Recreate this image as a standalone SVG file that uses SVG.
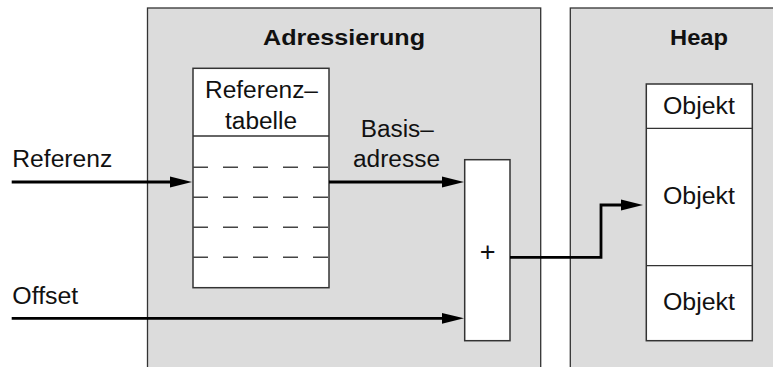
<svg xmlns="http://www.w3.org/2000/svg" width="773" height="367" viewBox="0 0 773 367">
  <style>
    .panel { fill: #dcdcdc; stroke: #333; stroke-width: 1.3; }
    .box { fill: #fff; stroke: #333; stroke-width: 1.5; }
    .sep { stroke: #333; stroke-width: 1.3; fill: none; }
    .row { stroke: #444; stroke-width: 1.5; stroke-dasharray: 15 15; fill: none; }
    .wire { stroke: #000; stroke-width: 2.8; fill: none; }
    text { font-family: "Liberation Sans", Arial, Helvetica, sans-serif; font-size: 23px; fill: #111; }
    .title { font-weight: bold; font-size: 22.5px; }
    .plus { font-size: 27px; }
    .c { text-anchor: middle; }
  </style>
  <defs>
    <marker id="arrow" markerUnits="userSpaceOnUse" markerWidth="23" markerHeight="12" refX="12" refY="6" orient="auto">
      <path d="M0,0.6 L22,6 L0,11.4 z" fill="#000"/>
    </marker>
  </defs>

  <!-- background panels -->
  <g id="panel-adressierung">
    <rect class="panel" x="147.5" y="8" width="393.2" height="370"/>
    <text class="title c" x="344" y="45" textLength="162" lengthAdjust="spacingAndGlyphs">Adressierung</text>
  </g>
  <g id="panel-heap">
    <rect class="panel" x="570.3" y="8" width="220" height="370"/>
    <text class="title c" x="699" y="45" textLength="58" lengthAdjust="spacingAndGlyphs">Heap</text>
  </g>

  <!-- reference table -->
  <g id="referenztabelle">
    <rect class="box" x="193" y="68.3" width="136" height="219.4"/>
    <line class="sep" x1="193" y1="136" x2="329" y2="136"/>
    <line class="row" x1="193" y1="167.3" x2="329" y2="167.3"/>
    <line class="row" x1="193" y1="197.3" x2="329" y2="197.3"/>
    <line class="row" x1="193" y1="227.3" x2="329" y2="227.3"/>
    <line class="row" x1="193" y1="257.3" x2="329" y2="257.3"/>
    <text class="c" x="261.5" y="97.5" textLength="113" lengthAdjust="spacingAndGlyphs">Referenz–</text>
    <text class="c" x="261" y="128.5" textLength="72" lengthAdjust="spacingAndGlyphs">tabelle</text>
  </g>

  <!-- adder -->
  <g id="adder">
    <rect class="box" x="464.7" y="159.7" width="45.3" height="181"/>
    <text class="c plus" x="487.7" y="261.3">+</text>
  </g>

  <!-- heap objects -->
  <g id="heap-objects">
    <rect class="box" x="646.3" y="84" width="106" height="256.7"/>
    <line class="sep" x1="646.3" y1="128.3" x2="752.3" y2="128.3"/>
    <line class="sep" x1="646.3" y1="265.7" x2="752.3" y2="265.7"/>
    <text class="c" x="699" y="113.5" textLength="72" lengthAdjust="spacingAndGlyphs">Objekt</text>
    <text class="c" x="699" y="204.2" textLength="72" lengthAdjust="spacingAndGlyphs">Objekt</text>
    <text class="c" x="699" y="310.2" textLength="72" lengthAdjust="spacingAndGlyphs">Objekt</text>
  </g>

  <!-- input / edge labels -->
  <g id="label-referenz">
    <text x="12.3" y="166.8" textLength="100" lengthAdjust="spacingAndGlyphs">Referenz</text>
  </g>
  <g id="label-offset">
    <text x="12.3" y="303.5" textLength="66" lengthAdjust="spacingAndGlyphs">Offset</text>
  </g>
  <g id="label-basisadresse">
    <text class="c" x="397.3" y="136.8" textLength="73" lengthAdjust="spacingAndGlyphs">Basis–</text>
    <text class="c" x="396.5" y="166.8" textLength="87" lengthAdjust="spacingAndGlyphs">adresse</text>
  </g>

  <!-- connectors -->
  <g id="connectors">
    <path class="wire" d="M11.7,182 H182" marker-end="url(#arrow)"/>
    <path class="wire" d="M329,182 H454" marker-end="url(#arrow)"/>
    <path class="wire" d="M11.7,318.3 H454" marker-end="url(#arrow)"/>
    <path class="wire" d="M510,257.3 H601 V205 H633" marker-end="url(#arrow)"/>
  </g>
</svg>
